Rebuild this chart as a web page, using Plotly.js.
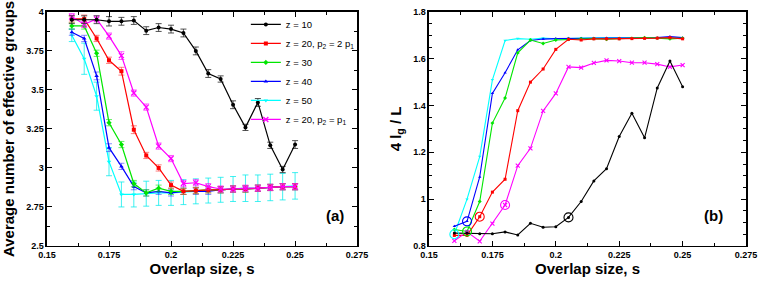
<!DOCTYPE html>
<html>
<head>
<meta charset="utf-8">
<script src="https://cdn.plot.ly/plotly-3.0.1.min.js"></script>
<style>html,body{margin:0;padding:0;background:#fff;}#chart{width:778px;height:284px;}</style>
</head>
<body>
<div id="chart"></div>
<script>
// ---------- data ----------
const s = [0.16,0.165,0.17,0.175,0.18,0.185,0.19,0.195,0.2,0.205,0.21,0.215,0.22,0.225,0.23,0.235,0.24,0.245,0.25];
const seriesNames = ["z = 10","z = 20, p<sub>2</sub> = 2 p<sub>1</sub>","z = 30","z = 40","z = 50","z = 20, p<sub>2</sub> = p<sub>1</sub>"];

// panel (a): average number of effective groups
const groupsZ10   = [3.95,3.95,3.95,3.94,3.94,3.945,3.88,3.90,3.89,3.865,3.75,3.605,3.57,3.405,3.26,3.42,3.145,2.99,3.15];
const groupsZ20b  = [3.955,3.955,3.83,3.69,3.62,3.245,3.08,3.00,2.89,2.85,2.855,2.86,2.86,2.865,2.865,2.87,2.875,2.88,2.88];
const groupsZ30   = [3.91,3.91,3.735,3.29,3.15,2.90,2.84,2.87,2.85,2.85,2.855,2.86,2.86,2.865,2.865,2.87,2.875,2.88,2.88];
const groupsZ40   = [3.87,3.83,3.59,3.13,3.01,2.88,2.84,2.85,2.84,2.85,2.85,2.85,2.86,2.865,2.865,2.87,2.875,2.88,2.88];
const groupsZ50   = [3.85,3.70,3.46,3.04,2.83,2.83,2.835,2.84,2.84,2.845,2.85,2.855,2.86,2.865,2.87,2.87,2.875,2.88,2.885];
const groupsZ20a  = [3.97,3.92,3.955,3.845,3.72,3.48,3.39,3.14,3.06,2.90,2.905,2.88,2.865,2.865,2.87,2.87,2.875,2.88,2.88];

const errZ10  = [0.025,0.025,0.025,0.03,0.025,0.025,0.025,0.025,0.025,0.025,0.025,0.025,0.02,0.025,0.02,0.025,0.02,0.02,0.025];
const errZ20b = [0.02,0.025,0.02,0.02,0.025,0.025,0.02,0.02,0.02,0.02,0.02,0.02,0.02,0.02,0.02,0.02,0.02,0.02,0.02];
const errZ30  = [0.02,0.02,0.02,0.02,0.02,0.02,0.02,0.02,0.02,0.02,0.02,0.02,0.02,0.02,0.02,0.02,0.02,0.02,0.02];
const errZ40  = [0.02,0.02,0.025,0.025,0.02,0.02,0.02,0.02,0.02,0.02,0.02,0.02,0.02,0.02,0.02,0.02,0.02,0.02,0.02];
const errZ50  = [0.04,0.10,0.09,0.09,0.08,0.08,0.08,0.08,0.08,0.08,0.08,0.08,0.08,0.08,0.085,0.085,0.085,0.085,0.085];
const errZ20a = [0.02,0.02,0.02,0.02,0.025,0.02,0.02,0.02,0.02,0.02,0.02,0.02,0.02,0.02,0.02,0.02,0.02,0.02,0.02];

// panel (b): 4 l_g / L
const lenZ10  = [0.855,0.855,0.852,0.852,0.86,0.847,0.897,0.88,0.882,0.922,0.99,1.078,1.13,1.268,1.367,1.262,1.475,1.59,1.48];
const lenZ20b = [0.845,0.845,0.925,1.03,1.085,1.378,1.50,1.556,1.64,1.683,1.68,1.685,1.685,1.685,1.686,1.687,1.688,1.69,1.685];
const lenZ30  = [0.87,0.862,0.99,1.325,1.432,1.625,1.68,1.665,1.68,1.683,1.685,1.686,1.683,1.686,1.687,1.69,1.688,1.685,1.688];
const lenZ40  = [0.884,0.905,1.095,1.452,1.54,1.638,1.678,1.684,1.686,1.687,1.688,1.688,1.689,1.688,1.688,1.689,1.69,1.695,1.69];
const lenZ50  = [0.85,1.00,1.182,1.51,1.678,1.686,1.683,1.688,1.685,1.687,1.69,1.689,1.69,1.69,1.69,1.689,1.69,1.688,1.69];
const lenZ20a = [0.822,0.86,0.82,0.895,0.975,1.143,1.217,1.377,1.452,1.565,1.562,1.582,1.593,1.59,1.583,1.583,1.577,1.565,1.573];

// highlighted (circled) points in panel (b)
const circleS   = [0.165,0.165,0.16,0.17,0.18,0.205];
const circleLen = [0.905,0.862,0.85,0.925,0.975,0.922];

const xTickVals = [0.15,0.175,0.2,0.225,0.25,0.275];
const xTickText = ["0.15","0.175","0.2","0.225","0.25","0.275"];
const yaTickVals = [2.5,2.75,3,3.25,3.5,3.75,4];
const yaTickText = ["2.5","2.75","3","3.25","3.5","3.75","4"];
const ybTickVals = [0.8,1,1.2,1.4,1.6,1.8];
const ybTickText = ["0.8","1","1.2","1.4","1.6","1.8"];

// ---------- styling ----------
const colors  = ["#000000","#ff0000","#00e600","#0000ff","#00ffff","#ff00ff"];
const errCols = ["rgba(50,50,50,0.85)","rgba(255,60,60,0.65)","rgba(0,230,0,0.6)","rgba(60,60,255,0.6)","rgba(0,235,235,0.75)","rgba(255,0,255,0.6)"];
const symbols = ["circle","square","diamond","triangle-up","triangle-down","x-thin-open"];

const groups = [groupsZ10,groupsZ20b,groupsZ30,groupsZ40,groupsZ50,groupsZ20a];
const errs   = [errZ10,errZ20b,errZ30,errZ40,errZ50,errZ20a];
const lens   = [lenZ10,lenZ20b,lenZ30,lenZ40,lenZ50,lenZ20a];

const traces = [];
const order = [4,3,2,1,5,0];
order.forEach(i => {
  traces.push({
    x: s, y: groups[i], type: 'scatter', mode: 'lines+markers',
    name: seriesNames[i], legendrank: i+1,
    line: {color: colors[i], width: 1.2},
    marker: {color: colors[i], symbol: symbols[i], size: i===5?5:4, line:{color: colors[i], width: i===5?1.3:0}},
    error_y: {type:'data', array: errs[i], visible: true, color: errCols[i], thickness: 1, width: 3},
    xaxis: 'x', yaxis: 'y'
  });
});
order.forEach(i => {
  traces.push({
    x: s, y: lens[i], type: 'scatter', mode: 'lines+markers',
    name: seriesNames[i], showlegend: false,
    line: {color: colors[i], width: 1.1},
    marker: {color: colors[i], symbol: symbols[i], size: i===5?4:3, line:{color: colors[i], width: i===5?1.1:0}},
    xaxis: 'x2', yaxis: 'y2'
  });
});
traces.push({
  x: circleS, y: circleLen, type: 'scatter', mode: 'markers', showlegend: false,
  marker: {symbol: 'circle-open', size: 9, color: [colors[3],colors[2],colors[4],colors[1],colors[5],colors[0]], line: {width: 1.1}},
  xaxis: 'x2', yaxis: 'y2'
});

const tickFont = {family: 'Liberation Sans, Arial, sans-serif', size: 9, color: '#000', weight: 'bold'};
const titleFont = {family: 'Liberation Sans, Arial, sans-serif', size: 15, color: '#000', weight: 'bold'};

function xAxis(domain, anchor) {
  return {
    domain: domain, anchor: anchor, range: [0.15, 0.275],
    tickvals: xTickVals, ticktext: xTickText, ticks: 'inside', ticklen: 5, tickwidth: 1, tickcolor: '#000',
    minor: {ticks: 'inside', dtick: 0.0125, tick0: 0.15, ticklen: 3, tickcolor: '#000'},
    showline: true, linecolor: '#000', linewidth: 1.5, mirror: 'ticks',
    showgrid: false, zeroline: false, tickfont: tickFont,
    title: {text: 'Overlap size, s', font: titleFont, standoff: 4}
  };
}
function yAxis(range, vals, text, minorD, anchor, title) {
  return {
    domain: [0.134, 0.958], anchor: anchor, range: range,
    tickvals: vals, ticktext: text, ticks: 'inside', ticklen: 5, tickwidth: 1, tickcolor: '#000',
    minor: {ticks: 'inside', dtick: minorD, tick0: range[0], ticklen: 3, tickcolor: '#000'},
    showline: true, linecolor: '#000', linewidth: 1.5, mirror: 'ticks',
    showgrid: false, zeroline: false, tickfont: tickFont,
    title: {text: title, font: titleFont, standoff: 8}
  };
}

const layout = {
  width: 778, height: 284,
  margin: {l: 0, r: 0, t: 0, b: 0},
  paper_bgcolor: '#fff', plot_bgcolor: '#fff',
  showlegend: true,
  legend: {x: 0.316, y: 0.965, xanchor: 'left', yanchor: 'top', bgcolor: 'rgba(0,0,0,0)',
           font: {family: 'Liberation Sans, Arial, sans-serif', size: 9.5, color: '#000'},
           tracegroupgap: 0, itemwidth: 30},
  xaxis: xAxis([0.0604, 0.459], 'y'),
  yaxis: yAxis([2.5, 4], yaTickVals, yaTickText, 0.125, 'x', 'Average number of effective groups'),
  xaxis2: xAxis([0.5514, 0.9589], 'y2'),
  yaxis2: yAxis([0.8, 1.8], ybTickVals, ybTickText, 0.05, 'x2', '4 l<sub>g</sub> / L'),
  annotations: [
    {text: '(a)', xref: 'paper', yref: 'paper', x: 335/778, y: 1-226/284, showarrow: false,
     font: {family: 'Liberation Sans, Arial, sans-serif', size: 15, color: '#000', weight: 'bold'}},
    {text: '(b)', xref: 'paper', yref: 'paper', x: 725/778, y: 1-226/284, showarrow: false,
     font: {family: 'Liberation Sans, Arial, sans-serif', size: 15, color: '#000', weight: 'bold'}}
  ]
};

Plotly.newPlot('chart', traces, layout, {displayModeBar: false, staticPlot: true});
</script>
</body>
</html>
